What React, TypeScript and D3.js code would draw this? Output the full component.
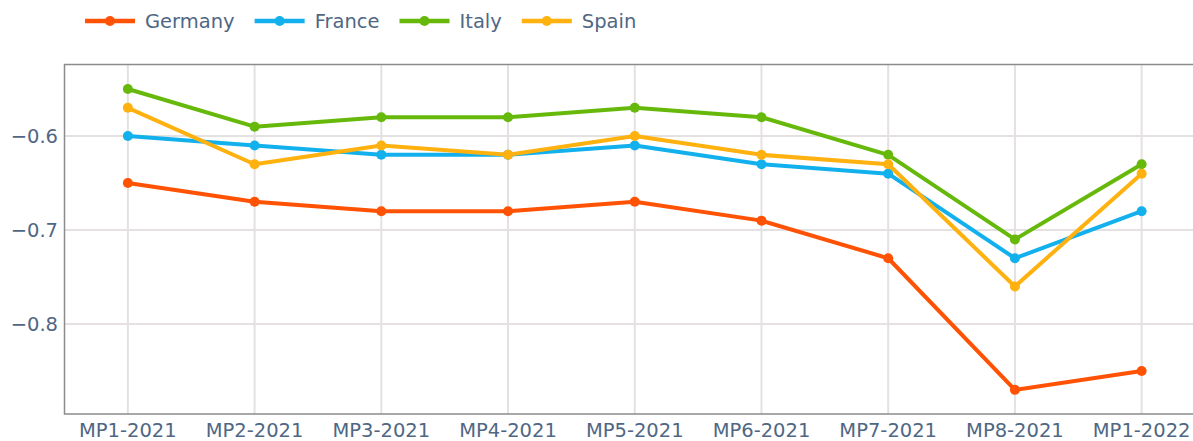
import React, { useEffect, useRef } from "react";
import * as d3 from "d3";

const periods = [
  "MP1-2021",
  "MP2-2021",
  "MP3-2021",
  "MP4-2021",
  "MP5-2021",
  "MP6-2021",
  "MP7-2021",
  "MP8-2021",
  "MP1-2022",
];

const germany = [-0.65, -0.67, -0.68, -0.68, -0.67, -0.69, -0.73, -0.87, -0.85];
const france = [-0.6, -0.61, -0.62, -0.62, -0.61, -0.63, -0.64, -0.73, -0.68];
const italy = [-0.55, -0.59, -0.58, -0.58, -0.57, -0.58, -0.62, -0.71, -0.63];
const spain = [-0.57, -0.63, -0.61, -0.62, -0.6, -0.62, -0.63, -0.76, -0.64];

const yTicks = [-0.6, -0.7, -0.8];

const series = [
  { name: "Germany", values: germany, color: "#ff5204" },
  { name: "France", values: france, color: "#12b0ec" },
  { name: "Italy", values: italy, color: "#66b90a" },
  { name: "Spain", values: spain, color: "#ffb10f" },
];

const W = 1193;
const H = 441;
const FONT = "'DejaVu Sans', Verdana, sans-serif";
const TEXT = "#506784";

export default function App() {
  const svgRef = useRef<SVGSVGElement>(null);

  useEffect(() => {
    const svg = d3.select(svgRef.current);
    svg.selectAll("*").remove();

    // plot area runs past the right edge of the picture, as in the reference
    const plot = { left: 64.5, top: 64.5, right: 1205, bottom: 414 };

    const x = d3
      .scalePoint<string>()
      .domain(periods)
      .range([plot.left, plot.right])
      .padding(0.5);

    const y = d3
      .scaleLinear()
      .domain([-0.8957, -0.5239])
      .range([plot.bottom, plot.top]);

    const g = svg.append("g");

    // grid
    g.selectAll("line.vgrid")
      .data(periods)
      .join("line")
      .attr("class", "vgrid")
      .attr("x1", (d) => x(d)!)
      .attr("x2", (d) => x(d)!)
      .attr("y1", plot.top)
      .attr("y2", plot.bottom)
      .attr("stroke", "#e6e1e1")
      .attr("stroke-width", 2);

    g.selectAll("line.hgrid")
      .data(yTicks)
      .join("line")
      .attr("class", "hgrid")
      .attr("x1", plot.left)
      .attr("x2", plot.right)
      .attr("y1", (d) => y(d))
      .attr("y2", (d) => y(d))
      .attr("stroke", "#e6e1e1")
      .attr("stroke-width", 2);

    // frame (left, top, bottom)
    g.append("path")
      .attr(
        "d",
        `M${plot.right},${plot.top}H${plot.left}V${plot.bottom}H${plot.right}`
      )
      .attr("fill", "none")
      .attr("stroke", "#8c8c8c")
      .attr("stroke-width", 1.5);

    // tick labels
    g.selectAll("text.xt")
      .data(periods)
      .join("text")
      .attr("class", "xt")
      .attr("x", (d) => x(d)!)
      .attr("y", 437)
      .attr("text-anchor", "middle")
      .attr("font-family", FONT)
      .attr("font-size", 19.5)
      .attr("fill", TEXT)
      .text((d) => d);

    g.selectAll("text.yt")
      .data(yTicks)
      .join("text")
      .attr("class", "yt")
      .attr("x", 58)
      .attr("y", (d) => y(d))
      .attr("dy", "0.36em")
      .attr("text-anchor", "end")
      .attr("font-family", FONT)
      .attr("font-size", 19.5)
      .attr("fill", TEXT)
      .text((d) => d3.format(".1f")(d).replace("-", "\u2212"));

    // lines
    const line = d3
      .line<number>()
      .x((d, i) => x(periods[i])!)
      .y((d) => y(d));

    series.forEach((s) => {
      const sg = g.append("g");
      sg.append("path")
        .datum(s.values)
        .attr("fill", "none")
        .attr("stroke", s.color)
        .attr("stroke-width", 4)
        .attr("stroke-linejoin", "round")
        .attr("d", line);
      sg.selectAll("circle")
        .data(s.values)
        .join("circle")
        .attr("cx", (d, i) => x(periods[i])!)
        .attr("cy", (d) => y(d))
        .attr("r", 5)
        .attr("fill", s.color);
    });

    // legend
    const leg = svg.append("g");
    let lx = 85;
    const ly = 21;
    series.forEach((s) => {
      const it = leg.append("g").attr("transform", `translate(${lx},${ly})`);
      it.append("line")
        .attr("x1", 0)
        .attr("x2", 50)
        .attr("stroke", s.color)
        .attr("stroke-width", 4.5);
      it.append("circle").attr("cx", 25).attr("r", 5).attr("fill", s.color);
      const t = it
        .append("text")
        .attr("x", 60)
        .attr("dy", "0.36em")
        .attr("font-family", FONT)
        .attr("font-size", 19.5)
        .attr("fill", TEXT)
        .text(s.name);
      const tw = (t.node() as SVGTextElement).getComputedTextLength();
      lx += 60 + tw + 20;
    });
  }, []);

  return (
    <svg
      ref={svgRef}
      width={W}
      height={H}
      style={{ position: "absolute", left: 0, top: 0, background: "#fff" }}
    />
  );
}
